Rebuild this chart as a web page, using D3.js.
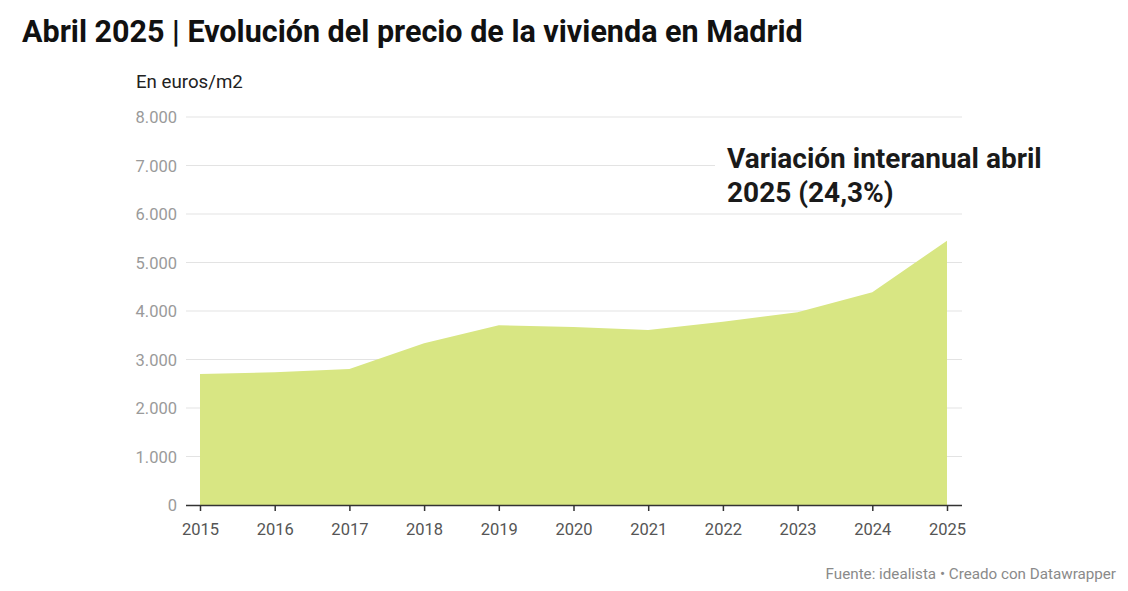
<!DOCTYPE html>
<html><head><meta charset="utf-8">
<script src="https://cdn.jsdelivr.net/npm/d3@7"></script>
<style>
html,body{margin:0;padding:0;background:#fff;}
svg{display:block;font-family:Roboto,"Noto Sans",sans-serif;}
</style></head>
<body>
<svg id="chart" width="1128" height="591"></svg>
<script>
const years = [2015,2016,2017,2018,2019,2020,2021,2022,2023,2024,2025];
const prices = [2701,2736,2804,3334,3705,3670,3608,3780,3973,4385,5450];
const yTicks = [0,1000,2000,3000,4000,5000,6000,7000,8000];
const titleText = "Abril 2025 | Evolución del precio de la vivienda en Madrid";
const unitText = "En euros/m2";
const annotationLines = ["Variación interanual abril","2025 (24,3%)"];
const sourceText = "Fuente: idealista • Creado con Datawrapper";

const svg = d3.select("#chart");
const x = d3.scaleLinear().domain([2015,2025]).range([200,947]);
const y = d3.scaleLinear().domain([0,8000]).range([505,117]);
const fmt = v => d3.format(",")(v).replace(/,/g,".");

svg.append("text").attr("x",22).attr("y",42)
  .attr("font-size",30.5).attr("font-weight",700).attr("fill","#111")
  .text(titleText);
svg.append("text").attr("x",136).attr("y",88)
  .attr("font-size",18.7).attr("fill","#222").text(unitText);

// gridlines
const grid = svg.append("g");
grid.selectAll("line").data(yTicks.filter(d=>d>0)).join("line")
  .attr("x1",186).attr("x2",962)
  .attr("y1",d=>y(d)).attr("y2",d=>y(d))
  .attr("stroke","#e3e3e3").attr("stroke-width",1);
// y labels
svg.append("g").selectAll("text").data(yTicks).join("text")
  .attr("x",177).attr("y",d=>y(d)+6).attr("text-anchor","end")
  .attr("font-size",16.5).attr("fill","#9a9a9a").text(fmt);

// area
const area = d3.area().x((d,i)=>x(years[i])).y0(y(0)).y1(d=>y(d));
svg.append("path").datum(prices).attr("d",area).attr("fill","#d8e683");

// x axis
const xAxis = svg.append("g").attr("transform",`translate(0,${y(0)})`)
  .call(d3.axisBottom(x).tickValues(years).tickFormat(d3.format("d")).tickSize(6).tickSizeOuter(0));
xAxis.select(".domain").attr("d","M186,0.5H962").attr("stroke","#333").attr("stroke-width",1.5);
xAxis.selectAll(".tick line").attr("stroke","#333").attr("stroke-width",1.5);
xAxis.selectAll(".tick text").attr("font-size",16.5).attr("fill","#555")
  .attr("font-family","Roboto,sans-serif").attr("y",13).attr("dy","1.05em");

// annotation
const ann = svg.append("g");
const annText = ann.append("text").attr("font-size",28).attr("font-weight",700).attr("fill","#1a1a1a");
annotationLines.forEach((l,i)=>annText.append("tspan").attr("x",727).attr("y",168+i*34).text(l));
const bb = annText.node().getBBox();
ann.insert("rect","text").attr("x",bb.x-12).attr("y",bb.y+2).attr("width",bb.width+16).attr("height",30).attr("fill","#fff");

svg.append("text").attr("x",1116).attr("y",579).attr("text-anchor","end")
  .attr("font-size",15.2).attr("fill","#8a8a8a").text(sourceText);
</script>
</body></html>
